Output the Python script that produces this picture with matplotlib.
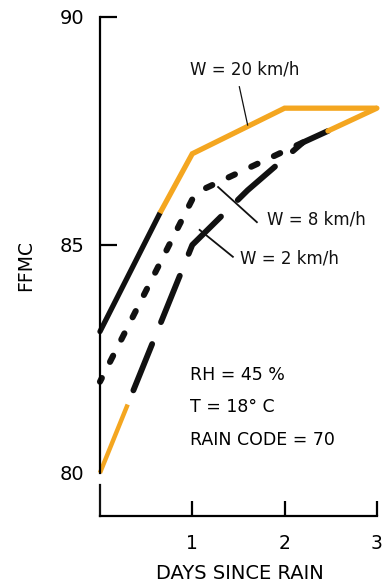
import matplotlib
matplotlib.use("Agg")
import matplotlib.pyplot as plt

plt.rcParams['font.family'] = ['DejaVu Sans']
plt.rcParams['lines.scale_dashes'] = False

# Data
w20_days = [0.0, 0.65, 1.0, 2.0, 3.0]
w20_ffmc = [83.1, 85.7, 87.0, 88.0, 88.0]

w8_days = [0.0, 1.0, 1.15, 2.2]
w8_ffmc = [82.0, 86.0, 86.25, 87.25]

w2_days = [0.0, 0.3, 1.0, 1.1, 1.6, 2.2, 2.47, 3.0]
w2_ffmc = [80.0, 81.5, 85.0, 85.2, 86.2, 87.25, 87.5, 88.0]

yticks = [80, 85, 90]
xticks = [1, 2, 3]
xtick_labels = ['1', '2', '3']

ORANGE = '#F4A620'
BLACK = '#111111'

fig = plt.figure(figsize=(3.83, 5.86), dpi=100)
ax = fig.add_axes([0.261, 0.193, 0.723, 0.778])
ax.set_xlim(0, 3)
ax.set_ylim(80, 90)

lw = 3.8
# W = 20 km/h
ax.plot(w20_days[:2], w20_ffmc[:2], color=BLACK, lw=lw, solid_capstyle='round', clip_on=False)
ax.plot(w20_days[1:], w20_ffmc[1:], color=ORANGE, lw=lw, solid_capstyle='butt',
        solid_joinstyle='miter', clip_on=False)

# W = 8 km/h
ax.plot(w8_days, w8_ffmc, color=BLACK, lw=lw + 0.6, linestyle=(2, (5, 13)),
        dash_capstyle='round', clip_on=False)

# W = 2 km/h
ax.plot(w2_days[:2], w2_ffmc[:2], color=ORANGE, lw=lw - 0.6, solid_capstyle='butt', clip_on=False)
ax.plot(w2_days[1:7], w2_ffmc[1:7], color=BLACK, lw=lw + 0.4, linestyle=(42, (36, 17)),
        dash_capstyle='round', clip_on=False)
ax.plot(w2_days[6:], w2_ffmc[6:], color=ORANGE, lw=lw, solid_capstyle='round', clip_on=False)

# Labels with leader lines
fs = 12
ax.text(0.975, 88.85, 'W = 20 km/h', fontsize=fs, ha='left', va='center', color=BLACK)
ax.plot([1.51, 1.60], [88.47, 87.63], color=BLACK, lw=0.9)
ax.text(1.81, 85.55, 'W = 8 km/h', fontsize=fs, ha='left', va='center', color=BLACK)
ax.plot([1.28, 1.70], [86.27, 85.5], color=BLACK, lw=1.3)
ax.text(1.52, 84.71, 'W = 2 km/h', fontsize=fs, ha='left', va='center', color=BLACK)
ax.plot([1.08, 1.44], [85.33, 84.74], color=BLACK, lw=1.3)

fs2 = 12.5
ax.text(0.975, 82.15, 'RH = 45 %', fontsize=fs2, ha='left', va='center')
ax.text(0.975, 81.45, 'T = 18° C', fontsize=fs2, ha='left', va='center')
ax.text(0.975, 80.72, 'RAIN CODE = 70', fontsize=fs2, ha='left', va='center')

# Axes styling
for s in ['top', 'right']:
    ax.spines[s].set_visible(False)
ax.spines['left'].set_linewidth(1.6)
ax.spines['bottom'].set_linewidth(1.6)
ax.spines['bottom'].set_position(('outward', 31))
ax.spines['left'].set_bounds(80, 90)

ax.set_yticks(yticks)
ax.set_yticklabels([str(v) for v in yticks])
ax.set_xticks(xticks)
ax.set_xticklabels(xtick_labels)
ax.tick_params(axis='y', direction='in', length=12, width=1.6, pad=11, labelsize=14)
ax.tick_params(axis='x', direction='in', length=11, width=1.6, pad=13, labelsize=13.5)
# no tick mark at 80
ax.yaxis.get_major_ticks()[0].tick1line.set_visible(False)

# stub at x=0 on the detached x axis
ax.plot([0, 0], [-0.094, -0.026], transform=ax.get_xaxis_transform(), color=BLACK,
        lw=1.6, clip_on=False)

ax.set_ylabel('FFMC', fontsize=13.5)
ax.yaxis.set_label_coords(-0.235, 0.455)
ax.set_xlabel('DAYS SINCE RAIN', fontsize=14)
ax.xaxis.set_label_coords(0.505, -0.2)

fig.savefig('out.png', dpi=100)
